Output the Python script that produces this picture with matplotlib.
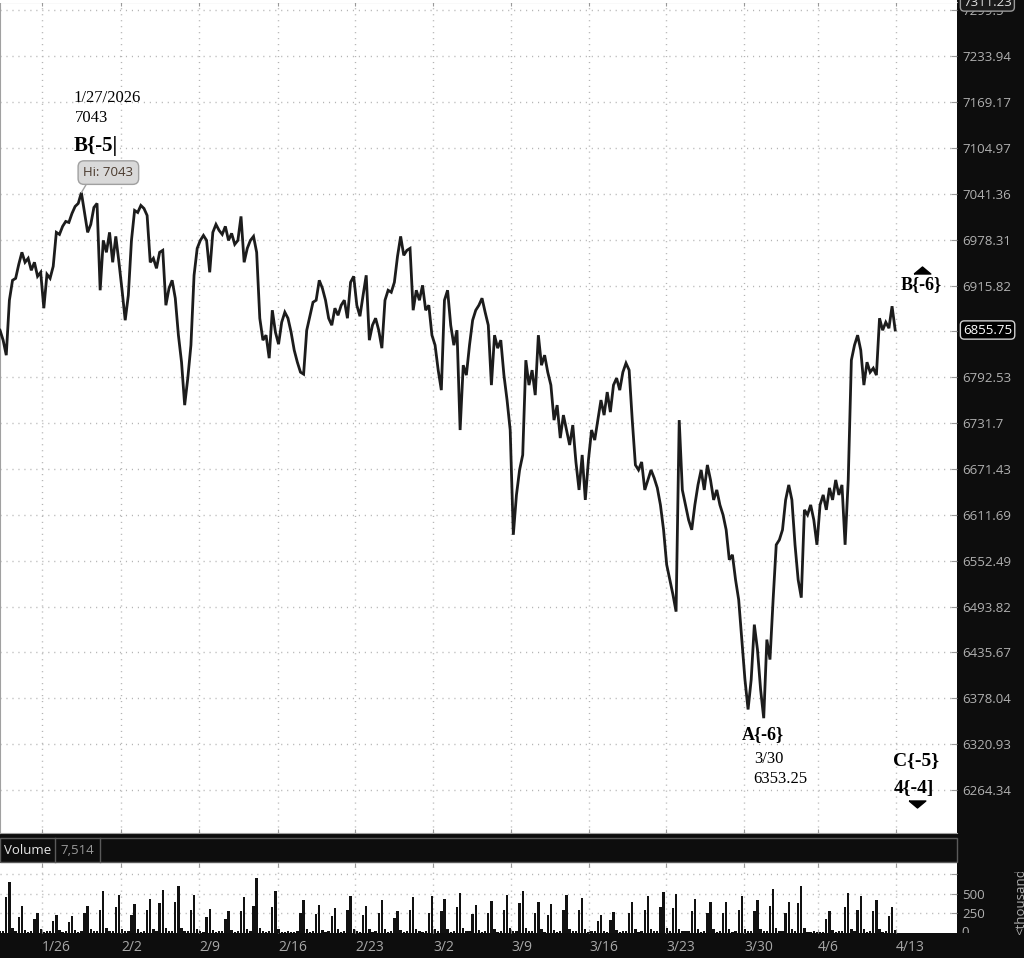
import numpy as np
import matplotlib
matplotlib.use('Agg')
import matplotlib.pyplot as plt
from matplotlib.patches import Rectangle
from matplotlib.ticker import NullLocator
import matplotlib.transforms as mtransforms

W, H = 1024, 958

# price path, 5 samples per session
price = [
    6855.5, 6842.1, 6822.0, 6895.9, 6922.9, 6925.6, 6944.7, 6961.0, 6947.4, 6952.8,
    6936.5, 6947.4, 6928.3, 6933.8, 6885.1, 6931.1, 6925.6, 6941.9, 6988.3, 6985.5,
    6996.5, 7003.3, 7001.9, 7014.3, 7023.9, 7028.1, 7043.0, 7015.6, 6988.3, 6999.2,
    7022.5, 7028.1, 6909.4, 6977.3, 6961.0, 6988.3, 6947.4, 6982.8, 6947.4, 6909.4,
    6868.9, 6902.6, 6977.3, 7018.4, 7015.6, 7025.3, 7021.1, 7011.5, 6947.4, 6952.8,
    6939.2, 6961.0, 6963.7, 6889.1, 6912.1, 6922.9, 6898.6, 6848.8, 6812.6, 6755.5,
    6791.4, 6835.4, 6929.7, 6966.4, 6977.3, 6984.1, 6977.3, 6933.8, 6988.3, 6999.2,
    6991.0, 6985.5, 6996.5, 6977.3, 6986.9, 6971.9, 6977.3, 7010.2, 6947.4, 6966.4,
    6977.3, 6982.8, 6961.0, 6871.6, 6842.1, 6848.8, 6818.0, 6882.4, 6852.8, 6836.7,
    6866.2, 6879.7, 6871.6, 6852.8, 6828.7, 6812.6, 6799.3, 6796.7, 6855.5, 6874.3,
    6893.2, 6895.9, 6922.9, 6912.1, 6895.9, 6871.6, 6862.2, 6885.1, 6875.6, 6889.1,
    6895.9, 6871.6, 6920.2, 6928.3, 6889.1, 6874.3, 6902.6, 6929.7, 6842.1, 6862.2,
    6871.6, 6855.5, 6831.4, 6895.9, 6909.4, 6906.7, 6920.2, 6955.5, 6982.8, 6956.9,
    6963.7, 6966.4, 6882.4, 6909.4, 6895.9, 6916.1, 6882.4, 6889.1, 6848.8, 6835.4,
    6802.0, 6775.4, 6895.9, 6909.4, 6862.2, 6835.4, 6855.5, 6722.6, 6808.6, 6795.4,
    6835.4, 6868.9, 6882.4, 6889.1, 6898.6, 6879.7, 6862.2, 6782.1, 6848.8, 6831.4,
    6842.1, 6795.4, 6762.2, 6722.6, 6585.9, 6637.6, 6670.2, 6689.8, 6815.3, 6782.1,
    6802.0, 6768.8, 6848.8, 6808.6, 6822.0, 6799.3, 6782.1, 6735.7, 6755.5, 6712.0,
    6742.3, 6722.6, 6702.9, 6729.1, 6680.6, 6644.1, 6689.8, 6631.1, 6683.2, 6722.6,
    6709.4, 6735.7, 6762.2, 6742.3, 6772.8, 6746.3, 6782.1, 6791.4, 6775.4, 6799.3,
    6811.3, 6802.0, 6735.7, 6676.7, 6670.2, 6680.6, 6644.1, 6657.1, 6670.2, 6659.7,
    6646.7, 6624.6, 6592.3, 6547.3, 6528.1, 6509.0, 6487.4, 6735.7, 6644.1, 6624.6,
    6605.2, 6592.3, 6624.6, 6650.6, 6670.2, 6644.1, 6676.7, 6657.1, 6631.1, 6644.1,
    6624.6, 6611.7, 6592.3, 6553.7, 6560.1, 6528.1, 6502.6, 6451.9, 6401.6, 6364.1,
    6401.6, 6470.9, 6439.3, 6389.1, 6353.25, 6451.9, 6426.7, 6502.6, 6573.0, 6579.4,
    6592.3, 6631.1, 6650.6, 6631.1, 6573.0, 6528.1, 6505.2, 6618.2, 6611.7, 6624.6,
    6605.2, 6573.0, 6624.6, 6637.6, 6618.2, 6646.7, 6631.1, 6657.1, 6637.6, 6650.6,
    6573.0, 6657.1, 6815.3, 6835.4, 6848.8, 6828.7, 6782.1, 6812.6, 6799.3, 6804.6,
    6795.4, 6871.6, 6855.5, 6866.2, 6858.2, 6887.8, 6855.75,
]

# volume (thousands), same sampling as price
volume = [
    20, 25, 462, 645, 60, 20, 200, 350, 40, 15,
    20, 180, 256, 50, 15, 20, 25, 150, 235, 40,
    15, 20, 140, 218, 35, 15, 20, 260, 350, 50,
    20, 25, 300, 538, 60, 20, 25, 330, 491, 50,
    20, 25, 230, 368, 45, 15, 20, 300, 432, 55,
    20, 380, 547, 60, 20, 25, 400, 598, 70, 20,
    25, 300, 491, 55, 20, 15, 200, 303, 40, 15,
    20, 25, 180, 278, 35, 15, 20, 280, 462, 50,
    25, 350, 697, 60, 20, 15, 25, 330, 534, 50,
    15, 10, 30, 10, 15, 20, 250, 427, 50, 15,
    20, 240, 355, 40, 15, 20, 220, 320, 45, 15,
    20, 300, 470, 55, 20, 15, 230, 350, 45, 15,
    20, 260, 419, 50, 15, 20, 190, 278, 40, 15,
    20, 300, 462, 55, 20, 15, 25, 260, 470, 50,
    20, 280, 440, 50, 15, 20, 330, 517, 60, 20,
    20, 240, 355, 40, 15, 20, 260, 410, 50, 15,
    25, 300, 483, 60, 20, 20, 385, 534, 60, 20,
    25, 250, 397, 45, 15, 230, 368, 40, 15, 20,
    300, 483, 55, 20, 25, 290, 453, 50, 15, 20,
    25, 150, 226, 30, 15, 170, 269, 35, 15, 20,
    25, 260, 397, 45, 15, 20, 300, 474, 55, 20,
    25, 330, 521, 60, 20, 320, 504, 55, 20, 25,
    30, 280, 440, 50, 15, 20, 260, 397, 45, 15,
    25, 250, 397, 45, 15, 25, 300, 474, 55, 20,
    25, 280, 427, 50, 20, 25, 350, 560, 60, 20,
    25, 250, 397, 45, 20, 380, 598, 60, 15, 10,
    20, 10, 10, 15, 180, 278, 40, 15, 20, 25,
    330, 517, 55, 20, 300, 470, 50, 15, 20, 280,
    427, 45, 15, 20, 220, 333, 40,
]
samples_per_day = 5
days_shown = 61.15

date_ticks = [2.7, 7.73, 12.72, 17.76, 22.68, 27.67, 32.65, 37.64, 42.56, 47.54, 52.27, 57.25]
date_labels = ['1/26', '2/2', '2/9', '2/16', '2/23', '3/2', '3/9', '3/16', '3/23', '3/30', '4/6', '4/13']

price_ticks = [6264.34, 6320.93, 6378.04, 6435.67, 6493.82, 6552.49, 6611.69, 6671.43,
               6731.7, 6792.53, 6853.87, 6915.82, 6978.31, 7041.36, 7104.97, 7169.17,
               7233.94, 7299.5]
price_tick_labels = ['6264.34', '6320.93', '6378.04', '6435.67', '6493.82', '6552.49',
                     '6611.69', '6671.43', '6731.7', '6792.53', '', '6915.82', '6978.31',
                     '7041.36', '7104.97', '7169.17', '7233.94', '7299.5']
price_low, price_high = 6211.8, 7311.23
last_price = 6855.75

vol_ticks = [250, 500, 750]
vol_tick_labels = ['250', '500', '']
vol_top = 894
vol_last = '7,514'

SANS = 'Open Sans'
SERIF = 'Liberation Serif'
DARK = '#0d0d0d'
AXTXT = '#b0b0b0'
GRID = dict(color='#b4b4b4', linestyle=(0, (0.8, 3.5)), linewidth=1)


def rect(x0, y0, x1, y1):
    return [x0 / W, 1 - y1 / H, (x1 - x0) / W, (y1 - y0) / H]


fig = plt.figure(figsize=(W / 100, H / 100), dpi=100, facecolor=DARK)
fig.patches.append(Rectangle((0, 1 - 3 / H), 957 / W, 3 / H, transform=fig.transFigure,
                             facecolor='white', edgecolor='none', zorder=0))

x = np.arange(len(price)) / samples_per_day

# ---- price panel
ax = fig.add_axes(rect(0, 2, 957, 833))
ax.set_facecolor('white')
ax.plot(x, price, color='#1c1c1c', lw=2.0, solid_joinstyle='miter', zorder=3)
ax.set_yscale('log')
ax.set_ylim(price_low, price_high)
ax.set_xlim(0, days_shown)
ax.set_yticks(price_ticks, price_tick_labels)
ax.yaxis.set_minor_locator(NullLocator())
ax.yaxis.tick_right()
ax.set_xticks(date_ticks, [''] * len(date_ticks))
ax.grid(True, **GRID)
ax.tick_params(axis='y', direction='in', length=4, color='#999999', labelcolor=AXTXT,
               labelsize=9.5, pad=4)
ax.tick_params(axis='x', direction='in', length=3, color='#999999', top=True)
for lab in ax.get_yticklabels():
    lab.set_fontfamily(SANS)
for s in ['left', 'top', 'bottom']:
    ax.spines[s].set_color('#a0a0a0')
ax.spines['right'].set_visible(False)

# price flags on the axis
ax.annotate(f'{last_price:.2f}', xy=(1, last_price), xycoords=('axes fraction', 'data'),
            xytext=(6, 0), textcoords='offset pixels', ha='left', va='center',
            color='white', fontsize=9.5, fontfamily=SANS, annotation_clip=False,
            bbox=dict(boxstyle='round,pad=0.2,rounding_size=0.3', fc='black', ec='#d0d0d0', lw=1))
ax.annotate(f'{price_high:.2f}', xy=(1, 1), xycoords='axes fraction',
            xytext=(6, 0), textcoords='offset pixels', ha='left', va='center',
            color='#e0e0e0', fontsize=9.5, fontfamily=SANS, annotation_clip=False, zorder=10,
            bbox=dict(boxstyle='round,pad=0.2,rounding_size=0.3', fc='#1a1a1a', ec='#9a9a9a', lw=1))

# wave labels
ihi = int(np.argmax(price))
ilo = int(np.argmin(price))
iend = len(price) - 1
hi_pt = (x[ihi], price[ihi])
lo_pt = (x[ilo], price[ilo])
end_pt = (x[iend], price[iend])


def note(txt, xy, dx, dy, size=12, bold=False, ha='left'):
    ax.annotate(txt, xy=xy, xytext=(dx, dy), textcoords='offset pixels', ha=ha, va='center',
                fontfamily=SERIF, fontsize=size, fontweight='bold' if bold else 'normal',
                color='black', annotation_clip=False)


note('1/27/2026', hi_pt, -8, 95)
note(f'{price[ihi]:.0f}', hi_pt, -7, 75)
note('B{-5|', hi_pt, -8, 47, size=15, bold=True)
ax.annotate(f'Hi: {price[ihi]:.0f}', xy=hi_pt, xytext=(27, 20), textcoords='offset pixels',
            ha='center', va='center', fontsize=9.5, fontfamily=SANS, color='#4a3a2e',
            bbox=dict(boxstyle='round,pad=0.4,rounding_size=0.45', fc='#d9d9d9', ec='#a0a0a0', lw=1),
            arrowprops=dict(arrowstyle='-', color='#a0a0a0', lw=1, shrinkA=0, shrinkB=0,
                            relpos=(0.12, 0)))

note('A{-6}', lo_pt, -1, -16, size=13, bold=True, ha='center')
note('3/30', lo_pt, -10, -41)
note(f'{price[ilo]:.2f}', lo_pt, -10, -61)

note('B{-6}', end_pt, 26, 45, size=13, bold=True, ha='center')
note('C{-5}', end_pt, 21, -431, size=14, bold=True, ha='center')
note('4{-4]', end_pt, 19, -458, size=14, bold=True, ha='center')

tri_up = [(-1, -0.42), (1, -0.42), (0, 0.42), (-1, -0.42)]
tri_dn = [(-1, 0.42), (1, 0.42), (0, -0.42), (-1, 0.42)]
t_up = mtransforms.offset_copy(ax.transData, fig=fig, x=27, y=60, units='dots')
t_dn = mtransforms.offset_copy(ax.transData, fig=fig, x=22, y=-474, units='dots')
ax.plot([end_pt[0]], [end_pt[1]], marker=tri_up, markersize=12, color='black',
        transform=t_up, clip_on=False, linestyle='none')
ax.plot([end_pt[0]], [end_pt[1]], marker=tri_dn, markersize=12, color='black',
        transform=t_dn, clip_on=False, linestyle='none')

# ---- volume header strip
fig.patches.append(Rectangle((0, 1 - 862 / H), 957 / W, 24 / H, transform=fig.transFigure,
                             facecolor=DARK, edgecolor='#5a5a5a', lw=1))
for px in (55, 100):
    fig.lines.append(plt.Line2D([px / W, px / W], [1 - 862 / H, 1 - 838 / H],
                                transform=fig.transFigure, color='#5a5a5a', lw=1))
fig.text(4 / W, 1 - 850 / H, 'Volume', color='#e6e6e6', fontsize=9.5, fontfamily=SANS,
         va='center', ha='left')
fig.text(60 / W, 1 - 850 / H, vol_last, color='#9a9a9a', fontsize=9.5, fontfamily=SANS,
         va='center', ha='left')

# ---- volume panel
axv = fig.add_axes(rect(0, 863, 957, 933))
axv.set_facecolor('white')
axv.bar(x, volume, width=0.15, color='#111111', align='center', zorder=3)
axv.set_xlim(0, days_shown)
axv.set_ylim(0, vol_top)
axv.set_yticks(vol_ticks, vol_tick_labels)
axv.yaxis.tick_right()
axv.set_xticks(date_ticks, date_labels)
axv.grid(True, **GRID)
axv.tick_params(axis='y', direction='in', length=4, color='#999999', labelcolor=AXTXT,
                labelsize=9.5, pad=4)
axv.tick_params(axis='x', direction='in', length=3, color='#999999', top=True,
                labelcolor='#a8a8a8', labelsize=10, pad=5)
for lab in axv.get_xticklabels() + axv.get_yticklabels():
    lab.set_fontfamily(SANS)
for lab in axv.get_xticklabels():
    lab.set_ha('left')
for s in axv.spines.values():
    s.set_visible(False)

# clipped volume-axis labels in the right column
axr = fig.add_axes(rect(957, 863, 1024, 933))
axr.axis('off')
axr.text(0.06, 0.0, '0', transform=axr.transAxes, ha='left', va='center', color=AXTXT,
         fontsize=9.5, fontfamily=SANS, clip_on=True)
axu = fig.add_axes(rect(1000, 872, 1024, 935))
axu.axis('off')
axu.text(0.85, 0.0, '<thousands>', transform=axu.transAxes, ha='center', va='bottom',
         rotation=90, color=AXTXT, fontsize=9.5, fontfamily=SANS, clip_on=True)

fig.savefig('out.png', dpi=100, facecolor=DARK)
